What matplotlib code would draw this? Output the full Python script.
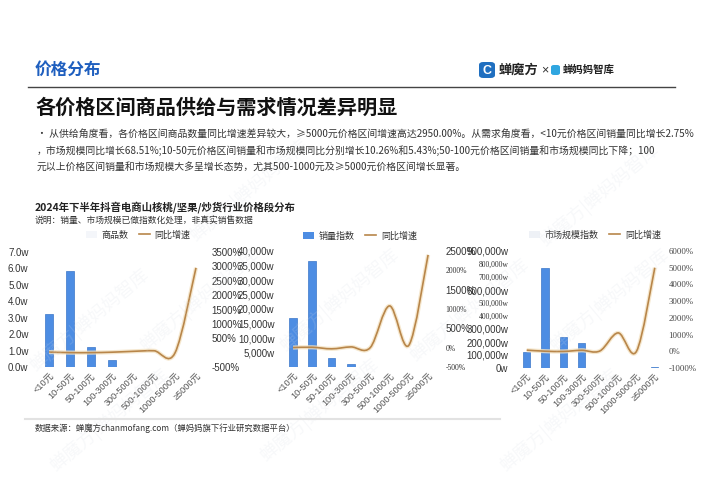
import numpy as np
import matplotlib
matplotlib.use("Agg")
import matplotlib.pyplot as plt
from matplotlib.path import Path
from matplotlib.patches import PathPatch, FancyBboxPatch, Patch
from matplotlib.lines import Line2D

plt.rcParams["font.family"] = ["Liberation Sans", "Noto Sans CJK SC", "DejaVu Sans"]

# ---- data ----
categories = ["<10元", "10-50元", "50-100元", "100-300元", "300-500元",
              "500-1000元", "1000-5000元", "≥5000元"]

goods_count = [3.23, 5.86, 1.22, 0.44, 0.02, 0.01, 0.005, 0.003]      # w
goods_yoy = [20, 0, 0, 15, 45, 65, -10, 2950]                            # %

sales_index = [16800, 36650, 3200, 930, 150, 100, 30, 20]                # w
sales_yoy = [2.75, 10.26, -30, 20, 0, 1080, 60, 2400]                   # %

market_index = [125000, 767000, 236000, 190000, 3000, 1000, 1000, 6000]  # w
market_yoy = [68.51, 5.43, -10, 60, 20, 1100, 0, 5000]                  # %

BAR = "#4d8de3"
BAR_EDGE = "#3b76c8"
LINE = "#b8864a"
GLOW = "#f3e2c2"
CJK = ["Noto Sans CJK SC", "DejaVu Sans"]
SERIF = ["Liberation Serif", "DejaVu Serif"]

W, H = 707, 500
fig = plt.figure(figsize=(7.07, 5.0), dpi=100)
fig.patch.set_facecolor("white")


def fx(x):
    return x / W


def fy(y):
    return 1 - y / H


def smooth_path(xs, ys):
    pts = np.column_stack([xs, ys]).astype(float)
    n = len(pts)
    verts = [pts[0]]
    codes = [Path.MOVETO]
    for i in range(n - 1):
        p0 = pts[max(i - 1, 0)]
        p1 = pts[i]
        p2 = pts[i + 1]
        p3 = pts[min(i + 2, n - 1)]
        verts += [p1 + (p2 - p0) / 6, p2 - (p3 - p1) / 6, p2]
        codes += [Path.CURVE4] * 3
    return Path(verts, codes)


def panel(L, R, top, bottom, c0, s, bars, yoy, lylim, lticks, rylim, rticks,
          bar_label, leg_xy, leg_patch):
    ax = fig.add_axes([fx(L), fy(bottom), (R - L) / W, (bottom - top) / H])
    x = np.arange(len(categories))
    ax.bar(x, bars, width=0.4, color=BAR, edgecolor=BAR_EDGE, linewidth=0.5, zorder=2)
    ax.set_xlim((L - c0) / s, (R - c0) / s)
    ax.set_ylim(*lylim)
    ax.set_yticks(lticks)
    ax.set_xticks(x)
    ax.set_xticklabels(categories, rotation=45, ha="right", rotation_mode="anchor",
                       fontsize=6.6, color="#555555")
    ax.tick_params(length=0, pad=3)
    ax.tick_params(axis="y", labelsize=7, labelcolor="#333333", pad=4)
    for sp in ax.spines.values():
        sp.set_visible(False)
    ax.set_facecolor("none")

    ax2 = ax.twinx()
    ax2.set_ylim(*rylim)
    ax2.set_yticks(rticks)
    ax2.tick_params(length=0, labelsize=7, labelcolor="#333333", pad=4)
    for sp in ax2.spines.values():
        sp.set_visible(False)
    path = smooth_path(x, yoy)
    ax2.add_patch(PathPatch(path, fill=False, edgecolor=GLOW, lw=3.0, alpha=0.8, zorder=3))
    ax2.add_patch(PathPatch(path, fill=False, edgecolor=LINE, lw=1.2, zorder=4))

    handles = [Patch(facecolor=leg_patch, edgecolor="none"),
               Line2D([], [], color=LINE, lw=1.2)]
    ax2.legend(handles, [bar_label, "同比增速"], loc="center",
               bbox_to_anchor=(fx(leg_xy[0]), fy(leg_xy[1])),
               bbox_transform=fig.transFigure, ncol=2, frameon=False,
               prop={"family": CJK, "size": 6.5}, handlelength=1.2,
               handleheight=0.8, columnspacing=1.2, handletextpad=0.5,
               labelcolor="#333333")
    return ax, ax2


def fmt_w(v):
    return f"{int(v):,}w"


# panel 1: goods count
ax1, ax1r = panel(34, 206, 252, 367, 49, 21, goods_count, goods_yoy,
                  (0, 7), np.arange(0, 8), (-500, 3500), np.arange(-500, 4000, 500),
                  "商品数", (138, 235), "#f4f6fa")
ax1.set_yticklabels([f"{v:.1f}w" for v in np.arange(0, 8)])
ax1r.set_yticklabels(["" if v == 0 else f"{v}%" for v in np.arange(-500, 4000, 500)])

# panel 2: sales index
ax2, ax2r = panel(280, 440, 251, 367, 293, 19.3, sales_index, sales_yoy,
                  (0, 40000), np.arange(0, 45000, 5000), (-500, 2500),
                  np.arange(-500, 3000, 500), "销量指数", (360, 236), BAR)
ax2.set_yticklabels(["" if v == 0 else fmt_w(v) for v in np.arange(0, 45000, 5000)])
r2 = np.arange(-500, 3000, 500)
ax2r.set_yticklabels([f"{v}%" for v in r2])
for v, lab in zip(r2, ax2r.get_yticklabels()):
    if v in (2000, 1000, 0, -500):
        lab.set_fontfamily(SERIF)
        lab.set_fontsize(5.5)

# panel 3: market index
l3 = np.arange(0, 1000000, 100000)
ax3, ax3r = panel(514, 663, 251, 368, 526.7, 18.3, market_index, market_yoy,
                  (0, 900000), l3, (-1000, 6000), np.arange(-1000, 7000, 1000),
                  "市场规模指数", (595, 235), "#eef1f6")
ax3.set_yticklabels([fmt_w(v) for v in l3])
for v, lab in zip(l3, ax3.get_yticklabels()):
    if v in (800000, 700000, 500000, 400000):
        lab.set_fontfamily(SERIF)
        lab.set_fontsize(5.5)
ax3r.set_yticklabels([f"{v}%" for v in np.arange(-1000, 7000, 1000)])
for lab in ax3r.get_yticklabels():
    lab.set_fontfamily(SERIF)
    lab.set_fontsize(6.3)
    lab.set_color("#444444")

# ---- page decoration ----
for (wx, wy) in [(90, 320), (200, 300), (340, 300), (470, 310), (610, 300),
                 (110, 420), (320, 410), (560, 420), (250, 190), (600, 195)]:
    fig.text(fx(wx), fy(wy), "蝉魔方|蝉妈妈智库", rotation=40, fontsize=13,
             color="#d5dbe4", alpha=0.18, ha="center", va="center",
             family=CJK, zorder=0)

fig.text(fx(35), fy(70), "价格分布", fontsize=12, fontweight="bold", color="#1f5fbf",
         family=CJK, va="center")
fig.add_artist(Line2D([fx(28), fx(675)], [fy(87), fy(87)], color="#444444", lw=1.0))

# logo
fig.add_artist(FancyBboxPatch((fx(479), fy(78)), 16 / W, 16 / H,
                              boxstyle="round,pad=0,rounding_size=0.006",
                              facecolor="#1f6fc0", edgecolor="none",
                              transform=fig.transFigure))
fig.text(fx(487), fy(70.5), "C", fontsize=9, fontweight="bold", color="white",
         ha="center", va="center")
fig.text(fx(499), fy(70), "蝉魔方", fontsize=9.5, fontweight="bold", color="#222222",
         family=CJK, va="center")
fig.text(fx(541), fy(70), "×", fontsize=9, color="#333333", va="center")
fig.add_artist(FancyBboxPatch((fx(551), fy(75)), 9 / W, 10 / H,
                              boxstyle="round,pad=0,rounding_size=0.004",
                              facecolor="#2fa6e0", edgecolor="none",
                              transform=fig.transFigure))
fig.text(fx(563), fy(70), "蝉妈妈智库", fontsize=7.5, fontweight="bold",
         color="#222222", family=CJK, va="center")

fig.text(fx(35), fy(107), "各价格区间商品供给与需求情况差异明显", fontsize=14.5,
         fontweight="bold", color="#111111", family=CJK, va="center")

body = [
    "· 从供给角度看，各价格区间商品数量同比增速差异较大，≥5000元价格区间增速高达2950.00%。从需求角度看，<10元价格区间销量同比增长2.75%",
    "，市场规模同比增长68.51%;10-50元价格区间销量和市场规模同比分别增长10.26%和5.43%;50-100元价格区间销量和市场规模同比下降；100",
    "元以上价格区间销量和市场规模大多呈增长态势，尤其500-1000元及≥5000元价格区间增长显著。",
]
for i, line in enumerate(body):
    fig.text(fx(37), fy(134 + i * 16.5), line, fontsize=7.1, color="#333333",
             family=CJK, va="center")

fig.text(fx(35), fy(207), "2024年下半年抖音电商山核桃/坚果/炒货行业价格段分布",
         fontsize=7.5, fontweight="bold", color="#222222", family=CJK, va="center")
fig.text(fx(35), fy(221), "说明：销量、市场规模已做指数化处理，非真实销售数据",
         fontsize=6.3, color="#333333", family=CJK, va="center")

fig.add_artist(Line2D([fx(25), fx(500)], [fy(419), fy(419)], color="#e2e2e2", lw=1.5))
fig.text(fx(35), fy(428), "数据来源：蝉魔方chanmofang.com（蝉妈妈旗下行业研究数据平台）",
         fontsize=6, color="#333333", family=CJK, va="center")

fig.savefig("out.png", dpi=100, facecolor="white")
